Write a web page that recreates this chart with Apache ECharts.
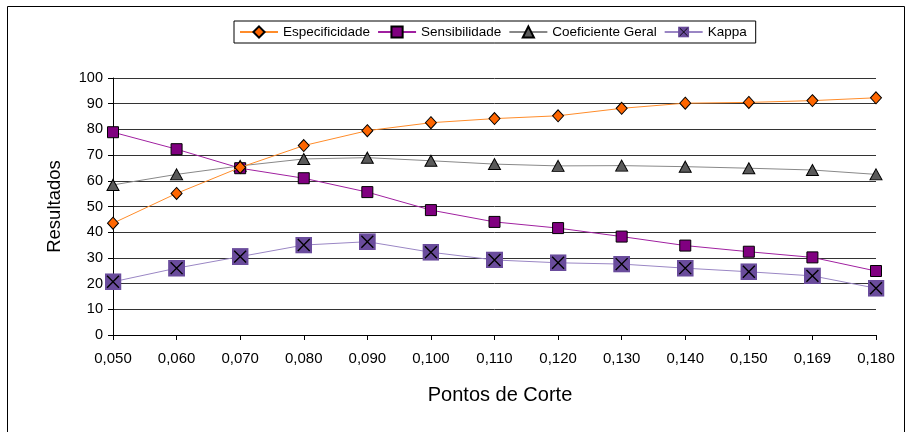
<!DOCTYPE html>
<html><head><meta charset="utf-8">
<script src="https://cdn.jsdelivr.net/npm/echarts@6/dist/echarts.min.js"></script>
<style>html,body{margin:0;padding:0;background:#fff}#c{width:914px;height:432px}</style>
</head><body><div id="c"></div>
<script>
const categories = ['0,050','0,060','0,070','0,080','0,090','0,100','0,110','0,120','0,130','0,140','0,150','0,169','0,180'];
const especificidade = [43.5,55.1,65.2,73.7,79.5,82.6,84.2,85.3,88.2,90.2,90.5,91.2,92.3];
const sensibilidade = [78.9,72.3,64.9,61.0,55.6,48.6,44.0,41.6,38.3,34.8,32.4,30.2,24.9];
const coeficienteGeral = [58.4,62.5,65.8,68.5,69.0,67.8,66.5,65.8,65.9,65.5,64.9,64.2,62.5];
const kappa = [20.7,26.0,30.5,35.0,36.3,32.2,29.2,28.1,27.6,26.0,24.6,23.0,18.2];

const kappaSvg = '<svg xmlns="http://www.w3.org/2000/svg" width="20" height="20" viewBox="0 0 20 20"><rect x="0" y="0" width="20" height="20" fill="#6A4C9C"/><path d="M3,3L17,17M17,3L3,17" stroke="#000" stroke-width="1.6"/></svg>';
const kappaSymbol = 'image://data:image/svg+xml;utf8,' + encodeURIComponent(kappaSvg);

const chart = echarts.init(document.getElementById('c'));
const font = 'Liberation Sans, Arial, sans-serif';
chart.setOption({
  animation: false,
  textStyle: {fontFamily: font},
  graphic: [{type:'rect', shape:{x:7.5,y:6.5,width:897,height:440}, style:{fill:'none',stroke:'#000',lineWidth:1}, silent:true}],
  legend: {
    left: 234, top: 21, padding: [4, 9, 4, 5], itemGap: 7, itemWidth: 38, itemHeight: 14,
    borderColor: '#000', borderWidth: 1, backgroundColor: '#fff',
    textStyle: {fontSize: 13.5, color: '#000', fontFamily: font},
    data: ['Especificidade','Sensibilidade','Coeficiente Geral','Kappa']
  },
  grid: {left: 113, right: 38, top: 78, bottom: 97},
  xAxis: {
    type: 'category', data: categories, boundaryGap: false,
    name: 'Pontos de Corte', nameLocation: 'middle', nameGap: 50,
    nameTextStyle: {fontSize: 20, color: '#000', fontFamily: font, padding: [0, 0, 0, 11]},
    axisLine: {lineStyle: {color: '#000'}},
    axisTick: {show: true, alignWithLabel: true, length: 5, lineStyle: {color: '#000'}},
    axisLabel: {fontSize: 15, color: '#000', margin: 16, interval: 0},
    splitLine: {show: false}
  },
  yAxis: {
    type: 'value', min: 0, max: 100, interval: 10,
    name: 'Resultados', nameLocation: 'middle', nameGap: 49,
    nameTextStyle: {fontSize: 18.5, color: '#000', fontFamily: font},
    axisLine: {show: true, lineStyle: {color: '#000'}},
    axisTick: {show: true, length: 5, lineStyle: {color: '#000'}},
    axisLabel: {fontSize: 14.5, color: '#000', margin: 10},
    splitLine: {show: true, lineStyle: {color: '#333', width: 1}}
  },
  series: [
    {name: 'Kappa', type: 'line', data: kappa, symbol: kappaSymbol, symbolSize: 17,
     itemStyle: {color: '#6A4C9C'}, lineStyle: {color: '#9A86C4', width: 1}, z: 2},
    {name: 'Coeficiente Geral', type: 'line', data: coeficienteGeral, symbol: 'triangle', symbolSize: [12, 11],
     itemStyle: {color: '#5A5A5A', borderColor: '#000', borderWidth: 1}, lineStyle: {color: '#888', width: 1}, z: 3},
    {name: 'Sensibilidade', type: 'line', data: sensibilidade, symbol: 'rect', symbolSize: 11,
     itemStyle: {color: '#800080', borderColor: '#000', borderWidth: 1}, lineStyle: {color: '#A020A0', width: 1}, z: 4},
    {name: 'Especificidade', type: 'line', data: especificidade, symbol: 'diamond', symbolSize: [11, 12],
     itemStyle: {color: '#FF6600', borderColor: '#000', borderWidth: 1}, lineStyle: {color: '#FF8C2A', width: 1}, z: 5}
  ]
});
</script></body></html>
